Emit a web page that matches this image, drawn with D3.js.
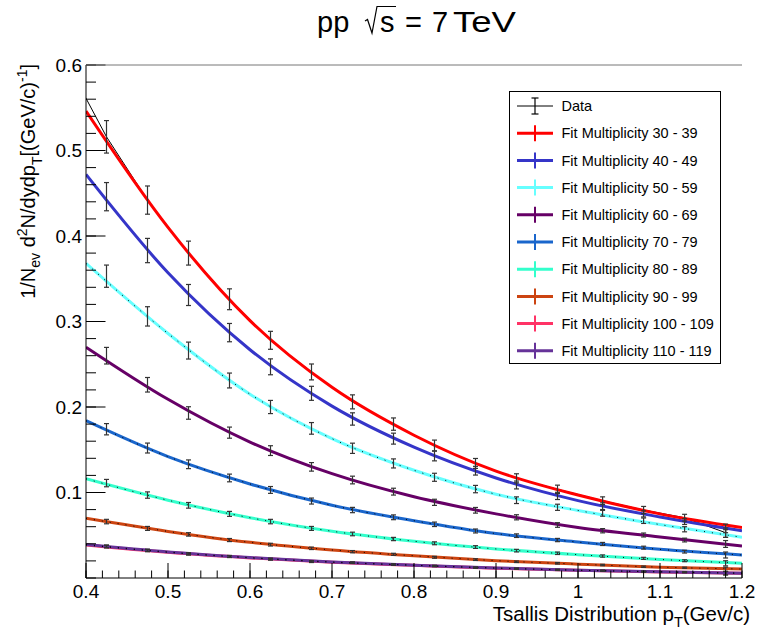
<!DOCTYPE html>
<html><head><meta charset="utf-8">
<script src="https://cdn.jsdelivr.net/npm/d3@7"></script>
<style>
html,body{margin:0;padding:0;background:#fff;}
svg{display:block;font-family:"Liberation Sans",Arial,sans-serif;}
</style></head>
<body><svg id="c" width="757" height="629"></svg>
<script>
// ---------- data ----------
const ptData = [0.425,0.475,0.525,0.575,0.625,0.675,0.725,0.775,0.825,0.875,0.925,0.975,1.03,1.08,1.13,1.18];
const ptFit = [0.4,0.5,0.6,0.7,0.8,0.9,1.0,1.1,1.2];
const labels = ["Fit Multiplicity 30 - 39","Fit Multiplicity 40 - 49","Fit Multiplicity 50 - 59","Fit Multiplicity 60 - 69","Fit Multiplicity 70 - 79","Fit Multiplicity 80 - 89","Fit Multiplicity 90 - 99","Fit Multiplicity 100 - 109","Fit Multiplicity 110 - 119"];
const colors = ["#ff0000","#3535c8","#66ffff","#660066","#1a66cc","#33ffcc","#cc4411","#ff3366","#663399"];
const dotted = [false,false,true,false,true,true,true,true,true];

const data30 = [0.516,0.442,0.380,0.326,0.278,0.241,0.206,0.180,0.155,0.134,0.1166,0.1037,0.0904,0.0795,0.0705,0.053];
const data40 = [0.446,0.383,0.331,0.287,0.247,0.216,0.186,0.163,0.1427,0.1255,0.1088,0.096,0.084,0.075,0.066,0.058];
const data50 = [0.353,0.306,0.266,0.231,0.200,0.175,0.1517,0.134,0.1178,0.104,0.091,0.0827,0.0757,0.067,0.057,0.052];
const data60 = [0.260,0.226,0.193,0.170,0.149,0.130,0.1146,0.101,0.0885,0.0792,0.071,0.062,0.0553,0.0503,0.0444,0.0398];
const data70 = [0.174,0.152,0.133,0.117,0.103,0.090,0.0795,0.071,0.0628,0.055,0.0495,0.0444,0.0398,0.0355,0.0308,0.0269];
const data80 = [0.111,0.097,0.085,0.075,0.066,0.058,0.0515,0.0456,0.0406,0.0362,0.032,0.0289,0.0257,0.023,0.0202,0.0172];
const data90 = [0.066,0.058,0.051,0.0444,0.039,0.0347,0.0308,0.0277,0.0242,0.0215,0.019,0.0172,0.0152,0.0132,0.012,0.0102];
const data100 = [0.0366,0.032,0.028,0.025,0.0219,0.019,0.0178,0.0156,0.014,0.012,0.0109,0.0094,0.0085,0.0074,0.0067,0.0055];
const data110 = [0.0372,0.0325,0.0284,0.0253,0.0222,0.0194,0.018,0.0158,0.0141,0.0122,0.011,0.0096,0.0086,0.0075,0.0068,0.0057];
// leading data point of the "Data" graph (outside the axis range, clipped)
const dataLeadPt = 0.375, dataLeadVal = 0.606;

const err30 = [0.019,0.0165,0.014,0.0122,0.0105,0.0093,0.0082,0.0072,0.0063,0.0058,0.0053,0.0049,0.0045,0.0042,0.004,0.0055];
const err40 = [0.0165,0.0142,0.0123,0.0107,0.0093,0.0082,0.0072,0.0064,0.0057,0.0051,0.0046,0.0042,0.0039,0.0036,0.0034,0.005];
const err50 = [0.013,0.0113,0.0099,0.0087,0.0077,0.0068,0.006,0.0053,0.0047,0.0043,0.0039,0.0036,0.0034,0.0032,0.003,0.0045];
const err60 = [0.0097,0.0085,0.0073,0.0065,0.0057,0.005,0.0045,0.004,0.0036,0.0033,0.003,0.0027,0.0025,0.0023,0.0022,0.004];
const err70 = [0.0066,0.0058,0.0051,0.0045,0.004,0.0035,0.0031,0.0028,0.0026,0.0023,0.0021,0.0019,0.0018,0.0017,0.0016,0.0035];
const err80 = [0.0043,0.0037,0.0033,0.0029,0.0026,0.0023,0.0021,0.0019,0.0017,0.0016,0.0015,0.0014,0.0013,0.0012,0.0011,0.003];
const err90 = [0.0026,0.0023,0.002,0.0018,0.0016,0.0014,0.0013,0.0012,0.0011,0.001,0.0009,0.0009,0.0008,0.0008,0.0007,0.0025];
const err100 = [0.0015,0.0013,0.0012,0.0011,0.001,0.0009,0.0008,0.0008,0.0007,0.0007,0.0006,0.0006,0.0006,0.0005,0.0005,0.002];
const err110 = [0.0015,0.0013,0.0012,0.0011,0.001,0.0009,0.0008,0.0008,0.0007,0.0007,0.0006,0.0006,0.0006,0.0005,0.0005,0.002];

const fit30 = [0.546,0.410,0.301,0.223,0.167,0.125,0.097,0.075,0.059];
const fit40 = [0.472,0.357,0.267,0.201,0.153,0.117,0.0905,0.0714,0.0553];
const fit50 = [0.368,0.286,0.215,0.163,0.126,0.098,0.079,0.0625,0.0476];
const fit60 = [0.270,0.209,0.159,0.122,0.095,0.075,0.059,0.048,0.0374];
const fit70 = [0.184,0.142,0.110,0.085,0.067,0.052,0.042,0.0335,0.0269];
const fit80 = [0.116,0.091,0.0705,0.0547,0.043,0.034,0.0273,0.0217,0.0172];
const fit90 = [0.0698,0.0545,0.0417,0.0328,0.026,0.0203,0.0162,0.0127,0.0105];
const fit100 = [0.0386,0.030,0.0235,0.0184,0.0148,0.0115,0.009,0.0071,0.0055];
const fit110 = [0.0392,0.0305,0.0239,0.0188,0.015,0.0117,0.0092,0.0073,0.0057];

const xTicks = [0.4,0.5,0.6,0.7,0.8,0.9,1.0,1.1,1.2];
const xTickLabels = ["0.4","0.5","0.6","0.7","0.8","0.9","1","1.1","1.2"];
const yTicks = [0.1,0.2,0.3,0.4,0.5,0.6];
const yTickLabels = ["0.1","0.2","0.3","0.4","0.5","0.6"];

const dataSets = [data30,data40,data50,data60,data70,data80,data90,data100,data110];
const errSets = [err30,err40,err50,err60,err70,err80,err90,err100,err110];
const fitSets = [fit30,fit40,fit50,fit60,fit70,fit80,fit90,fit100,fit110];

// ---------- layout ----------
const L = 86, R = 742, T = 65, B = 578;
const svg = d3.select("#c");
const x = d3.scaleLinear().domain([0.4,1.2]).range([L,R]);
const y = d3.scaleLinear().domain([0,0.6]).range([B,T]);

svg.append("defs").append("clipPath").attr("id","clip")
  .append("rect").attr("x",L).attr("y",T).attr("width",R-L).attr("height",B-T);

const plot = svg.append("g").attr("clip-path","url(#clip)");

// black "Data" line (underneath the fits)
const lin = d3.line().x(d=>x(d[0])).y(d=>y(d[1]));
{
  const pts = [[dataLeadPt,dataLeadVal]].concat(ptData.map((p,j)=>[p,data30[j]]));
  plot.append("path").attr("d",lin(pts)).attr("fill","none")
    .attr("stroke","#000").attr("stroke-width",1);
}

// fit curves
const curve = d3.line().x(d=>x(d[0])).y(d=>y(d[1])).curve(d3.curveMonotoneX);
[7,8,6,5,4,3,2,1,0].forEach(i=>{
  const pts = ptFit.map((p,j)=>[p,fitSets[i][j]]);
  plot.append("path").attr("d",curve(pts)).attr("fill","none")
    .attr("stroke",colors[i]).attr("stroke-width",3);
});
// dotted overlay on light curves
fitSets.forEach((fs,i)=>{
  if(!dotted[i]) return;
  const pts = ptFit.map((p,j)=>[p,fs[j]]);
  plot.append("path").attr("d",curve(pts)).attr("fill","none")
    .attr("stroke","#000").attr("stroke-width",1).attr("stroke-dasharray","1,7");
});

// error bars
const eb = plot.append("g").attr("stroke","#333").attr("stroke-width",1.2);
dataSets.forEach((ds,i)=>{
  ptData.forEach((p,j)=>{
    const cx = x(p), y1 = y(ds[j]-errSets[i][j]), y2 = y(ds[j]+errSets[i][j]);
    eb.append("line").attr("x1",cx).attr("x2",cx).attr("y1",y1).attr("y2",y2);
    eb.append("line").attr("x1",cx-2.5).attr("x2",cx+2.5).attr("y1",y1).attr("y2",y1);
    eb.append("line").attr("x1",cx-2.5).attr("x2",cx+2.5).attr("y1",y2).attr("y2",y2);
  });
});

// ---------- axes ----------
const ax = svg.append("g").attr("stroke","#000").attr("stroke-width",1);
ax.append("line").attr("x1",L).attr("x2",R).attr("y1",B).attr("y2",B);
ax.append("line").attr("x1",L).attr("x2",L).attr("y1",T).attr("y2",B);
svg.append("line").attr("x1",L).attr("x2",R).attr("y1",T).attr("y2",T).attr("stroke","#777").attr("stroke-width",1);

const xMinor = d3.range(0,41).map(k=>0.4+k*0.02);
xMinor.forEach(v=>ax.append("line").attr("x1",x(v)).attr("x2",x(v)).attr("y1",B).attr("y2",B-7.5));
xTicks.forEach(v=>ax.append("line").attr("x1",x(v)).attr("x2",x(v)).attr("y1",B).attr("y2",B-15));
const yMinor = d3.range(0,31).map(k=>k*0.02);
yMinor.forEach(v=>ax.append("line").attr("x1",L).attr("x2",L+10).attr("y1",y(v)).attr("y2",y(v)));
yTicks.forEach(v=>ax.append("line").attr("x1",L).attr("x2",L+19.5).attr("y1",y(v)).attr("y2",y(v)));

xTicks.forEach((v,i)=>svg.append("text").attr("x",x(v)).attr("y",598)
  .attr("text-anchor","middle").attr("font-size",19).text(xTickLabels[i]));
yTicks.forEach((v,i)=>svg.append("text").attr("x",82).attr("y",y(v)+6.8)
  .attr("text-anchor","end").attr("font-size",19).text(yTickLabels[i]));

// x title
const xt = svg.append("text").attr("x",750).attr("y",621).attr("text-anchor","end").attr("font-size",20.5);
xt.append("tspan").text("Tsallis Distribution p");
xt.append("tspan").attr("font-size",14.5).attr("dy",6).text("T");
xt.append("tspan").attr("dy",-6).text("(Gev/c)");

// y title
const yt = svg.append("text").attr("transform","translate(35,64) rotate(-90)")
  .attr("text-anchor","end").attr("font-size",20);
yt.append("tspan").text("1/N");
yt.append("tspan").attr("font-size",14).attr("dy",5).text("ev");
yt.append("tspan").attr("dy",-5).text(" d");
yt.append("tspan").attr("font-size",14).attr("dy",-8).text("2");
yt.append("tspan").attr("dy",8).text("N/dydp");
yt.append("tspan").attr("font-size",14).attr("dy",7).text("T");
yt.append("tspan").attr("dy",-7).text("[(GeV/c)");
yt.append("tspan").attr("font-size",14).attr("dy",-8).text("-1");
yt.append("tspan").attr("dy",8).text("]");

// title
const tg = svg.append("g").attr("font-size",29);
tg.append("text").attr("x",317).attr("y",32).text("pp");
tg.append("path").attr("d","M365,21 L367.5,19.5 L372,33 L377,6.5 L396,6.5").attr("fill","none").attr("stroke","#000").attr("stroke-width",1.2);
tg.append("text").attr("x",380).attr("y",32).text("s");
tg.append("text").attr("x",405).attr("y",32).text("=");
tg.append("text").attr("x",432).attr("y",32).text("7");
tg.append("text").attr("x",453).attr("y",32).attr("textLength",63).attr("lengthAdjust","spacingAndGlyphs").text("TeV");

// ---------- legend ----------
const lg = svg.append("g");
lg.append("rect").attr("x",509.5).attr("y",91.5).attr("width",211).attr("height",272)
  .attr("fill","#fff").attr("stroke","#000").attr("stroke-width",1);
const rowY = k => 106 + k*27.2;
// Data entry
lg.append("line").attr("x1",517).attr("x2",553).attr("y1",rowY(0)).attr("y2",rowY(0)).attr("stroke","#000").attr("stroke-width",1);
lg.append("line").attr("x1",535).attr("x2",535).attr("y1",rowY(0)-8).attr("y2",rowY(0)+8).attr("stroke","#000").attr("stroke-width",1.2);
lg.append("line").attr("x1",531.5).attr("x2",538.5).attr("y1",rowY(0)-8).attr("y2",rowY(0)-8).attr("stroke","#000").attr("stroke-width",1.2);
lg.append("line").attr("x1",531.5).attr("x2",538.5).attr("y1",rowY(0)+8).attr("y2",rowY(0)+8).attr("stroke","#000").attr("stroke-width",1.2);
lg.append("text").attr("x",561.5).attr("y",rowY(0)+5.2).attr("font-size",14.5).text("Data");
labels.forEach((lab,i)=>{
  const yy = rowY(i+1);
  lg.append("line").attr("x1",517).attr("x2",553).attr("y1",yy).attr("y2",yy).attr("stroke",colors[i]).attr("stroke-width",3);
  lg.append("line").attr("x1",535).attr("x2",535).attr("y1",yy-8).attr("y2",yy+8).attr("stroke",colors[i]).attr("stroke-width",2);
  lg.append("text").attr("x",561.5).attr("y",yy+5.2).attr("font-size",14.5).text(lab);
});
</script></body></html>
